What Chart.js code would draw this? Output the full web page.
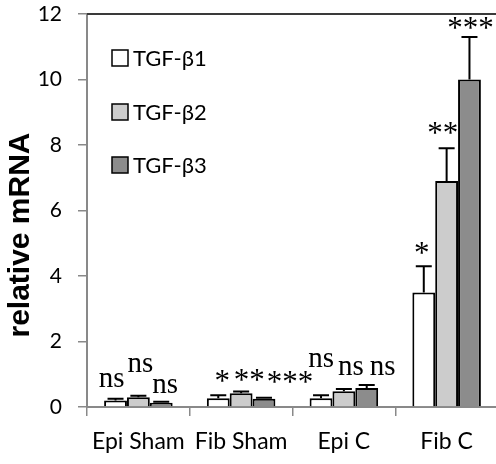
<!DOCTYPE html>
<html>
<head>
<meta charset="utf-8">
<script src="https://cdn.jsdelivr.net/npm/chart.js@4/dist/chart.umd.min.js"></script>
<style>
  html, body { margin: 0; padding: 0; background: #fff; overflow: hidden; }
  #wrap { width: 498px; height: 464px; }
</style>
</head>
<body>
<div id="wrap"><canvas id="chart"></canvas></div>
<script>
// data
const groups = ["Epi Sham", "Fib Sham", "Epi C", "Fib C"];
const seriesNames = ["TGF-β1", "TGF-β2", "TGF-β3"];
const tgfB1 = [0.20, 0.27, 0.27, 3.50];
const tgfB2 = [0.30, 0.42, 0.48, 6.90];
const tgfB3 = [0.13, 0.25, 0.58, 10.00];
const errB1 = [0.05, 0.09, 0.09, 0.80];
const errB2 = [0.04, 0.05, 0.07, 1.00];
const errB3 = [0.03, 0.03, 0.09, 1.30];
const sigB1 = ["ns", "*", "ns", "*"];
const sigB2 = ["ns", "**", "ns", "**"];
const sigB3 = ["ns", "***", "ns", "***"];
const yTicks = [0, 2, 4, 6, 8, 10, 12];

const fills = ["#ffffff", "#cccccc", "#8c8c8c"];
const axisGray = "#898989";

// label nudges in px [dx, dy] relative to top of error bar, per series / group
const labelNudge = [
  [[-4, -12], [4, -4], [0, -28], [-2, -3]],
  [[2, -24], [8, -2], [7, -14], [-4, -5]],
  [[4, -9], [26, -6], [16, -10], [1, 1]]
];

const errorBars = {
  id: "errorBars",
  afterDatasetsDraw(chart) {
    const ctx = chart.ctx;
    const y = chart.scales.y;
    const errs = [errB1, errB2, errB3];
    const sigs = [sigB1, sigB2, sigB3];
    ctx.save();
    chart.data.datasets.forEach((ds, di) => {
      const meta = chart.getDatasetMeta(di);
      meta.data.forEach((bar, i) => {
        const top = y.getPixelForValue(ds.data[i] + errs[di][i]);
        const base = y.getPixelForValue(ds.data[i]);
        ctx.strokeStyle = "#000";
        ctx.lineWidth = 2;
        ctx.beginPath();
        ctx.moveTo(bar.x, base);
        ctx.lineTo(bar.x, top);
        ctx.moveTo(bar.x - 8, top);
        ctx.lineTo(bar.x + 8, top);
        ctx.stroke();

        const n = labelNudge[di][i];
        const s = sigs[di][i];
        ctx.fillStyle = "#000";
        ctx.font = s === "ns" ? "29px 'Liberation Serif'" : "31px 'Liberation Serif'";
        ctx.textAlign = "center";
        ctx.textBaseline = "alphabetic";
        ctx.fillText(s, bar.x + n[0], top + n[1]);
      });
    });
    ctx.restore();
  }
};

const frame = {
  id: "frame",
  afterDraw(chart) {
    const ctx = chart.ctx;
    const a = chart.chartArea;
    ctx.save();
    // top border
    ctx.strokeStyle = "#3a3a3a";
    ctx.lineWidth = 2;
    ctx.beginPath();
    ctx.moveTo(a.left, a.top);
    ctx.lineTo(a.right, a.top);
    ctx.stroke();

    // legend
    ctx.font = "22px Lato";
    ctx.textBaseline = "middle";
    ctx.textAlign = "left";
    const rows = [44, 98, 151];
    seriesNames.forEach((name, i) => {
      const cy = a.top + rows[i];
      ctx.fillStyle = fills[i];
      ctx.fillRect(a.left + 25, cy - 8, 16, 16);
      ctx.strokeStyle = "#000";
      ctx.lineWidth = 1.5;
      ctx.strokeRect(a.left + 25, cy - 8, 16, 16);
      ctx.fillStyle = "#000";
      ctx.fillText(name, a.left + 46, cy + 1);
    });

    // y axis title
    ctx.translate(21, 235);
    ctx.rotate(-Math.PI / 2);
    ctx.font = "bold 30px 'Liberation Sans'";
    ctx.textAlign = "center";
    ctx.textBaseline = "middle";
    ctx.fillText("relative mRNA", 0, 0);
    ctx.restore();
  }
};

new Chart(document.getElementById("chart"), {
  type: "bar",
  data: {
    labels: groups,
    datasets: [tgfB1, tgfB2, tgfB3].map((d, i) => ({
      label: seriesNames[i],
      data: d,
      backgroundColor: fills[i],
      borderColor: "#000",
      borderWidth: 2,
      categoryPercentage: 0.667,
      barPercentage: 1.0
    }))
  },
  options: {
    responsive: true,
    maintainAspectRatio: false,
    animation: false,
    layout: { padding: { top: 14, right: 0, bottom: 0, left: 0 } },
    plugins: { legend: { display: false }, tooltip: { enabled: false } },
    scales: {
      x: {
        offset: true,
        grid: { display: true, offset: true, drawOnChartArea: false, tickLength: 9, color: axisGray, lineWidth: 1.5 },
        border: { color: axisGray, width: 2 },
        ticks: { color: "#000", font: { family: "Lato", size: 23 }, padding: 12, maxRotation: 0 },
        afterFit(scale) { scale.height = 57; scale.paddingLeft = 0; scale.paddingRight = 0; }
      },
      y: {
        min: 0,
        max: 12,
        afterBuildTicks(scale) { scale.ticks = yTicks.map(v => ({ value: v })); },
        grid: { drawOnChartArea: false, tickLength: 9, color: axisGray, lineWidth: 1.5 },
        border: { color: axisGray, width: 2 },
        ticks: { color: "#000", font: { family: "Lato", size: 21 }, padding: 16 },
        afterFit(scale) { scale.width = 87; scale.paddingTop = 0; scale.paddingBottom = 0; }
      }
    }
  },
  plugins: [errorBars, frame]
});
</script>
</body>
</html>
